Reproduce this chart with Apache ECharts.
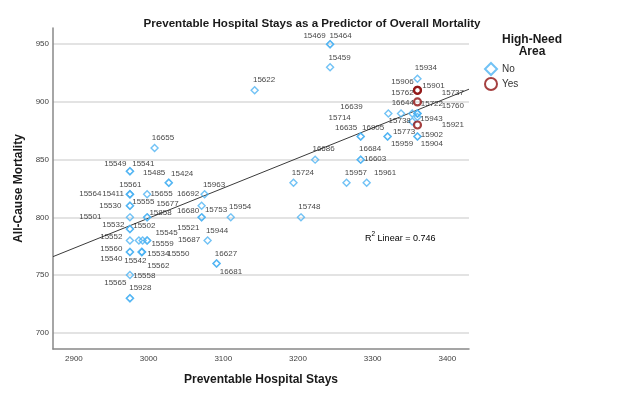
<!DOCTYPE html>
<html>
<head>
<meta charset="utf-8">
<script src="https://cdn.jsdelivr.net/npm/echarts@6.0.0/dist/echarts.min.js"></script>
<style>
    html, body { margin: 0; padding: 0; background: #fff; }
    #grafico { width: 624px; height: 397px; }
</style>
</head>
<body>
<div id="grafico"></div>
<script>
// Datos: id de condado, estancias evitables, mortalidad, zona de alta necesidad
const ids = [
    15469, 15464, 15459, 15622, 15934, 15906, 15901, 15762, 16644, 16639,
    15714, 15722, 15737, 15760, 15738, 15943, 15921, 15902, 15904, 15773,
    15959, 16635, 16905, 16686, 16684, 16603, 15724, 15957, 15961, 15954,
    15748, 16655, 15549, 15541, 15485, 15424, 15561, 15564, 15411, 15655,
    15963, 16692, 15530, 15555, 15677, 15858, 16680, 15753, 15501, 15532,
    15502, 15545, 15521, 15687, 15559, 15944, 15552, 15560, 15534, 15550,
    15540, 15542, 15562, 16627, 16681, 15558, 15565, 15928
];
const estancias = [
    3243, 3243, 3243, 3142, 3360, 3360, 3360, 3360, 3321, 3338,
    3353, 3360, 3360, 3360, 3353, 3360, 3360, 3360, 3360, 3320,
    3320, 3284, 3284, 3223, 3284, 3284, 3194, 3265, 3292, 3110,
    3204, 3008, 2975, 2975, 3027, 3027, 2975, 2975, 2975, 2998,
    3075, 3071, 2975, 2975, 2998, 2998, 3071, 3071, 2975, 2975,
    2975, 2998, 2987, 2992, 2998, 3079, 2975, 2975, 2991, 2991,
    2975, 2991, 2991, 3091, 3091, 2975, 2975, 2975
];
const mortalidad = [
    950, 950, 930, 910, 920, 910, 910, 900, 890, 890,
    890, 890, 890, 890, 883, 880, 887, 870, 870, 870,
    870, 870, 870, 850, 850, 850, 830, 830, 830, 800,
    800, 860, 840, 840, 830, 830, 820, 820, 820, 820,
    820, 810, 810, 810, 800, 800, 800, 800, 800, 790,
    790, 780, 780, 780, 780, 780, 780, 770, 770, 770,
    770, 770, 770, 760, 760, 750, 730, 730
];
const altaNecesidad = [
    0, 0, 0, 0, 0, 1, 1, 1, 0, 0,
    0, 0, 0, 0, 0, 1, 0, 0, 0, 0,
    0, 0, 0, 0, 0, 0, 0, 0, 0, 0,
    0, 0, 0, 0, 0, 0, 0, 0, 0, 0,
    0, 0, 0, 0, 0, 0, 0, 0, 0, 0,
    0, 0, 0, 0, 0, 0, 0, 0, 0, 0,
    0, 0, 0, 0, 0, 0, 0, 0
];
const grupos = ['No', 'Yes'];

// Recta de ajuste lineal (extremos)
const ajusteEstancias = [2872, 3429];
const ajusteMortalidad = [766, 911];
const r2 = 0.746;

// Desplazamiento de cada etiqueta respecto a su punto (px), como en el original
const desplEtiquetas = [
    [-26, -8], [0, -8], [-1, -9], [-1, -10], [-2, -10], [-25, -7], [6, -3], [-25, -8], [4, -10], [-60, -6],
    [-83, 5], [4, -9], [25, -20], [25, -7], [-23, 0], [4, -5], [25, 9], [4, -1], [4, 8], [6, -4],
    [4, 8], [-25, -8], [2, -8], [-2, -10], [-1, -10], [4, 0], [-1, -9], [-1, -9], [8, -9], [-1, -10],
    [-2, -10], [-2, -10], [-25, -7], [3, -7], [-25, -9], [3, -8], [-10, -9], [-50, 0], [-27, 0], [4, 0],
    [-1, -9], [-24, -11], [-30, 1], [3, -3], [10, -13], [3, -4], [-24, -6], [4, -7], [-50, 0], [-27, -3],
    [4, -2], [9, -7], [39, -12], [36, 0], [5, 4], [-1, -9], [-29, -3], [-29, -3], [6, 2], [26, 2],
    [-29, 7], [-17, 9], [6, 14], [-1, -9], [4, 9], [4, 1], [-25, -15], [0, -10]
];

const FUENTE = '"Liberation Sans", Arial, sans-serif';
const TAM_SIMBOLO = 7;

function datosGrupo(g) {
    const datos = [];
    ids.forEach((id, i) => {
        if (altaNecesidad[i] !== g) return;
        const [dx, dy] = desplEtiquetas[i];
        datos.push({
            value: [estancias[i], mortalidad[i]],
            label: {
                formatter: String(id),
                position: [TAM_SIMBOLO / 2 + dx, TAM_SIMBOLO / 2 + dy]
            }
        });
    });
    return datos;
}

const etiquetaComun = {
    show: true,
    align: 'left',
    verticalAlign: 'middle',
    fontSize: 8,
    fontFamily: FUENTE,
    color: '#111'
};

const myChart = echarts.init(document.getElementById('grafico'));

const option = {
    animation: false,
    title: {
        text: 'Preventable Hospital Stays as a Predictor of Overall Mortality',
        left: 'center',
        top: 13,
        textStyle: {fontSize: 11.6, fontWeight: 'bold', color: '#1a1a1a', fontFamily: FUENTE}
    },
    legend: {
        data: grupos,
        orient: 'vertical',
        left: 484,
        top: 62,
        itemWidth: 12,
        itemHeight: 12,
        itemGap: 1,
        padding: 0,
        textStyle: {fontSize: 10, color: '#333', fontFamily: FUENTE}
    },
    grid: {left: 53, right: 155, top: 28, bottom: 48},
    xAxis: {
        type: 'value',
        min: 2872,
        max: 3429,
        splitNumber: 5,
        name: 'Preventable Hospital Stays',
        nameLocation: 'middle',
        nameGap: 25,
        nameTextStyle: {fontSize: 12, fontWeight: 'bold', color: '#1a1a1a', fontFamily: FUENTE},
        axisLine: {lineStyle: {color: '#888', width: 1.5}},
        axisTick: {show: false},
        axisLabel: {
            fontSize: 8, color: '#404040', fontFamily: FUENTE, margin: 6,
            showMinLabel: false, showMaxLabel: false,
            formatter: v => String(v)
        },
        splitLine: {show: false}
    },
    yAxis: {
        type: 'value',
        min: 686,
        max: 964,
        splitNumber: 5,
        name: 'All-Cause Mortality',
        nameLocation: 'middle',
        nameGap: 25,
        nameTextStyle: {fontSize: 12, fontWeight: 'bold', color: '#1a1a1a', fontFamily: FUENTE},
        axisLine: {show: true, lineStyle: {color: '#888', width: 1.5}},
        axisTick: {show: false},
        axisLabel: {
            fontSize: 8, color: '#404040', fontFamily: FUENTE, margin: 4,
            showMinLabel: false, showMaxLabel: false,
            formatter: v => String(v)
        },
        splitLine: {
            show: true, showMinLine: false, showMaxLine: false,
            lineStyle: {color: '#dadada', width: 1.6}
        }
    },
    graphic: [
        {
            type: 'text',
            left: 502,
            top: 34,
            style: {
                text: 'High-Need\nArea',
                textAlign: 'center',
                font: 'bold 12px ' + FUENTE,
                lineHeight: 12,
                fill: '#1a1a1a'
            }
        },
        {
            type: 'text',
            left: 365,
            top: 230,
            style: {
                text: '{n|R}{s|2}{n| Linear = ' + r2 + '}',
                rich: {
                    n: {fontSize: 9, fontFamily: FUENTE, color: '#1a1a1a', lineHeight: 13, verticalAlign: 'bottom'},
                    s: {fontSize: 6.5, fontFamily: FUENTE, color: '#1a1a1a', lineHeight: 13, verticalAlign: 'top', padding: [1, 0, 0, 0]}
                }
            }
        }
    ],
    series: [
        {
            name: 'Ajuste',
            type: 'line',
            data: ajusteEstancias.map((x, i) => [x, ajusteMortalidad[i]]),
            symbol: 'none',
            silent: true,
            lineStyle: {color: '#3a3a3a', width: 1},
            z: 1
        },
        {
            name: grupos[0],
            type: 'scatter',
            symbol: 'diamond',
            symbolSize: TAM_SIMBOLO,
            data: datosGrupo(0),
            itemStyle: {color: 'rgba(255,255,255,0)', borderColor: '#4db3f2', borderWidth: 1.4},
            label: etiquetaComun,
            emphasis: {disabled: true},
            z: 3
        },
        {
            name: grupos[1],
            type: 'scatter',
            symbol: 'circle',
            symbolSize: TAM_SIMBOLO,
            data: datosGrupo(1),
            itemStyle: {color: 'rgba(255,255,255,0)', borderColor: '#8f1010', borderWidth: 2.2},
            label: etiquetaComun,
            emphasis: {disabled: true},
            z: 4
        }
    ]
};

myChart.setOption(option);
</script>
</body>
</html>
